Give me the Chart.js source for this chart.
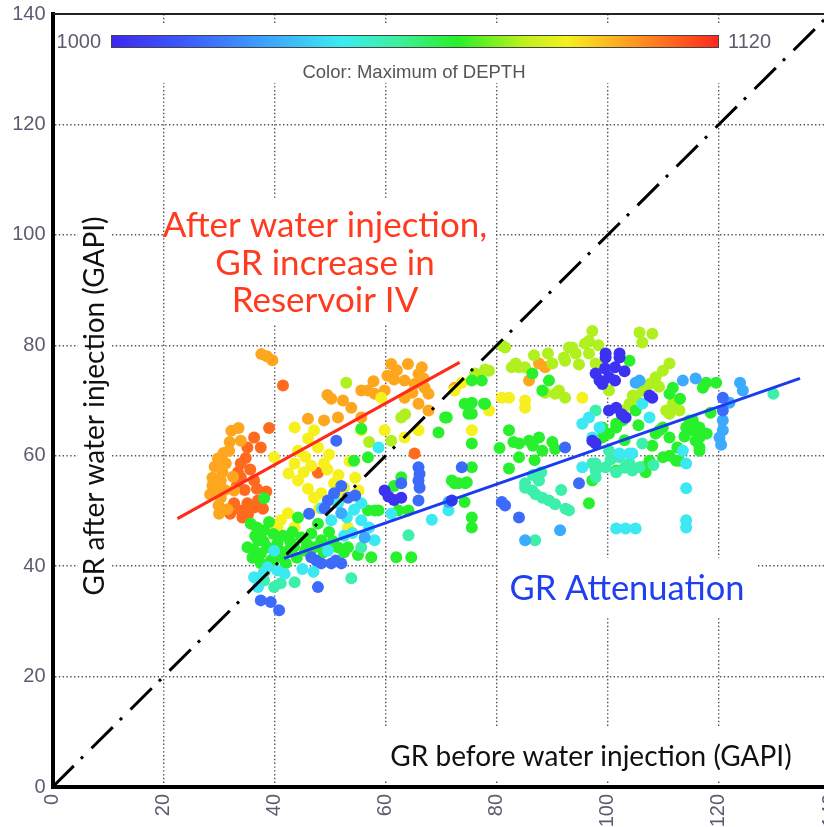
<!DOCTYPE html>
<html>
<head>
<meta charset="utf-8">
<script src="https://cdn.jsdelivr.net/npm/chart.js@4.4.1/dist/chart.umd.min.js"></script>
<style>
  html, body { margin: 0; padding: 0; background: #fff; overflow: hidden; }
  #wrap { position: absolute; left: 0; top: 0; width: 840px; height: 827px; }
</style>
</head>
<body>
<div id="wrap"><canvas id="grChart" width="840" height="827"></canvas></div>
<script>
// GR before vs after water injection, coloured by max depth
const axisTicks = [0, 20, 40, 60, 80, 100, 120, 140];
const depthMin = 1000;
const depthMax = 1120;

// reference lines [GR before, GR after]
const oneToOne = [[0, 0], [140, 140]];
const trendIncrease = [[22.5, 48.6], [73.3, 76.9]];
const trendAttenuation = [[41.7, 41.4], [134.6, 74.0]];

// points grouped by depth class
const depthClasses = [1003, 1018, 1032, 1045, 1055, 1068, 1080, 1090, 1101, 1110];

const ptsViolet = [[59.8,53.7],[62.8,52.4],[60.5,52.6],[71.9,51.9],[99.6,77.8],[102.1,77.8],[97.8,74.9],[100.2,74.2],[101.3,73.6],[99,73],[107.5,70.9],[100.2,68.2],[101.5,68.7],[97.8,62.2],[103.2,66.9],[101.3,76],[98.5,73.6],[97.2,62.7],[99.6,78.5],[102.1,78.5],[108,70.5],[102.5,67.5],[61.5,52],[99.5,75.8],[103,75.3]];
const ptsBlue = [[51.1,62.7],[73.7,57.9],[65.9,57.9],[65.9,55.5],[62.8,55],[65.9,51.9],[47.8,36.2],[37.5,33.8],[39.3,33.5],[40.8,32],[53.2,52.4],[50.7,53.2],[66.1,54.2],[66.1,56.7],[81.5,51],[84,48.8],[94.8,55],[80.9,51.6],[120.7,70.5],[120.7,68.2],[92.3,61.5],[46.6,41.6],[48.4,40.5],[50.2,40.5],[52,40.5],[49.6,51.9],[47.5,41],[51,41],[49,50.5],[54.5,52.8],[52,54.5],[46.2,49.5]];
const ptsCyanBlue = [[52,49.6],[105,73.2],[123.8,73.2],[124.3,71.8],[120.7,66.4],[120.7,64.6],[120.1,63.3],[91.4,46.5],[85.1,44.7],[113.5,73.6],[115.8,74],[121.9,69.6],[71.3,51.6],[56.2,45.2],[120.4,62],[105.7,73.6]];
const ptsCyan = [[58.7,61.5],[39.9,42.8],[49.6,42.8],[55.6,48.3],[51.4,51.4],[50.2,48.3],[55.6,51.4],[36.3,38],[37,36.2],[38.7,39.8],[40.5,39.2],[58,44.7],[61,49.5],[71.3,50.1],[68.3,48.4],[95.4,65.8],[96.6,66.9],[97.2,63.3],[114.1,58.6],[103.9,60.4],[95.4,57.9],[114.1,54.1],[114.1,48.3],[114.1,47],[101.5,46.8],[103.2,46.8],[105,46.8],[106.2,69.4],[107.5,66.9],[98.5,65.1],[113.5,60.9],[104.4,60.4],[102.1,60.4],[54,46],[52.5,45.5],[48.5,50.5],[38,38.8],[41.8,38.6],[45,39.5],[47,39],[53,48.8],[54.3,50.2],[57,47]];
const ptsCyanGreen = [[85.1,55],[87.6,55.5],[86.4,53.7],[88.2,52.4],[89.4,51.9],[85.1,54.2],[86.5,56.5],[88,57],[92.4,50.4],[93,50.1],[86.9,44.7],[97.8,57.3],[97.8,58.6],[99.6,57.9],[102.1,59.7],[103.9,58.6],[105.7,57.9],[106.2,62.2],[100.2,60.9],[97.8,68.2],[97.2,58.6],[101.5,57],[104.4,57.3],[97.8,56.1],[129.8,71.2],[53.8,37.8],[43.6,37.1],[41.1,36.9],[39.9,36.2],[38.1,37.4],[64.1,45.6],[55.6,43.4],[90.5,51.2],[100.5,59.3],[103,57.8],[108.2,58.3],[87,53],[91.6,53.8]];
const ptsGreen = [[38.1,52.3],[55.6,64.9],[54.3,59.1],[56.8,59.7],[75.5,62.2],[70.7,66.9],[75.5,57.9],[71.9,55.5],[74.3,55],[75.5,48.8],[75.5,47],[62.3,50.1],[64.1,50.1],
  [35.7,47.7],[38.1,46.5],[44.2,48.8],[35.1,43.4],[37,44.7],[37.5,42.3],[38.7,43.4],[40.5,44.1],[41.1,41.6],[39.3,41],[37.5,40.5],[42.4,42.8],[44.8,45.2],[46.6,45.9],[48.4,44.7],[47.1,43.4],[51.4,43.4],[53.2,43.4],[57.4,41.6],[56.8,50.1],[47.8,47.7],[58,50.1],[36.5,45.5],[39.8,45.8],[42.8,44.5],[38.2,39],[40,42.5],[36,41.5],[45.5,42.8],[49.8,46.2],[43.2,46.2],
  [36.8,47],[39,48],[41.5,45.5],[43.5,43.5],[45.8,44],[38,44.5],[40.8,42.8],[36.2,43],[39.6,40.2],[42,40.5],[44,41.5],[50.5,44.5],[52.5,42.5],[55,42],[48.8,42.5],
  [73.1,55],[74.6,55.2],[74.2,51.6],[58.7,50.1],[61.9,41.6],[64.6,41.6],[62.8,56.1],[61.5,54.5],[82.2,57.7],
  [86.4,74.9],[75.5,73.6],[77.3,73.6],[77.7,69.4],[74.2,69.4],[75.5,67.6],[69.5,64.2],[82.2,64.6],[84,62.2],[85.8,62.7],[87.6,63.3],[84,59.7],[88.2,60.9],[72.4,55],[75.5,69.6],[77.9,69.4],[74.9,67.6],[71,66.9],[89.4,73.6],[88.2,71.8],[83,62.5],[86.8,59.2],[90,62.5],[80.5,61.4],
  [103.9,77.2],[117.7,73.2],[119.5,73.2],[111.7,72.3],[111.1,71.2],[114.7,66.4],[116.5,65.1],[115.3,64.6],[116.5,63.3],[116.5,60.9],[109.9,65.1],[111.1,63.3],[108.6,64],[105,68.2],[102.7,66.4],[101.5,65.1],[100.2,64],[99,63.3],[101.5,57.3],[107.5,59.1],[109.9,59.7],[112.3,59.1],[99,65.1],[97.2,55.5],[96.6,51.4],[101.5,65.8],[115.8,62.7],[109.3,64.6],[106.2,57.9],[106.8,57],[111.1,60],[112.9,59.1],[116.5,61.5],[117.1,72.3],[115.3,66.4],[114.1,65.1],[90.5,61.2],[86.5,61.8],
  [113.8,63.5],[117.8,64],[112.5,61.5],[108,61.8],[103,62.8],[105.5,65.5],[113,70.3],[118.5,67.8]];
const ptsYellowGreen = [[52.9,73.2],[62.8,66.9],[61,62.7],[81.5,79.6],[84,76],[88.7,71.4],[90.5,71.2],[92.3,70.5],[93,79.6],[95.9,80.3],[97.2,82.6],[94.2,78.5],[96.6,78.5],[92.3,77.2],[97.8,76.7],[105.7,82.3],[108,82.1],[106.2,80.5],[100.2,71.8],[111.1,76.7],[109.9,75.4],[108.6,74.2],[107.5,73],[106.2,71.8],[105,70.5],[103.9,69.4],[102.7,68.2],[111.7,69.4],[112.9,68.2],[111.1,67.6],[82.7,76],[91.2,71.8],[76.1,74.9],[78.6,75.4],[77.9,75.6],[83.4,76.7],[85.1,76],[90,76.7],[92.1,77.8],[93.6,79.6],[96.6,80.8],[99,76],[110.5,68.2],[112.3,68.7],[63.5,67.5],[57,62.5],[81,79.9],[98.3,80],[94.8,76.5],[104.5,70.9],[109.2,72.5],[86.7,78.2],[89.2,78.5]];
const ptsYellow = [[43.6,65.1],[47.1,64.6],[46,63.1],[47.8,61.5],[44.2,60.9],[39.9,59.7],[43.6,58.6],[46.6,58.2],[59.2,70.5],[59.8,64.6],[55.6,64.6],[63.4,63.3],[65.9,64.6],[75.5,64.6],[44.2,55.5],[48.9,58.6],[47.1,52.4],[50.7,55],[52.5,54.2],[52,52.4],[50.2,51.9],[48.4,53.2],[55.1,53.7],[53.2,47],[39.3,46.9],[40.5,47],[42.4,49.6],[43.6,47],[41.1,48.3],[80.9,70.5],[82.2,70.5],[85.1,70],[85.1,68.7],[78.6,68.2],[72.4,71.8],[95.4,70.5],[53.5,59],[45.2,57],[49.8,60.2],[73.7,73.2],[49.5,57.5],[46,54],[51.5,56.5],[45.5,59.8],[42.5,56.8],[54.5,56],[48,50.5]];
const ptsOrange = [[37.6,78.4],[38.6,78],[39.6,77.3],[33.9,62.7],[31.8,60.9],[31.2,58.6],[30.6,57],[30.3,55.5],[30.3,52.4],[32.7,53.7],[29.5,54.2],[28.8,56],[29.2,58],[30.8,60.5],[32.2,64.5],[33.5,65],[28.4,53],[31.5,50.3],[29.9,51],[29.8,59.5],[31.9,62.5],[28.8,54.6],[31,53.8],[32.5,56.2],[30,49.5],
  [61,76.6],[64,76.6],[65.9,74.8],[63.4,73.6],[65.2,73],[67,72.3],[67.7,71.2],[63.4,70.5],[56.8,71.8],[59.8,71.8],[53.8,68.7],[65.9,69.4],[67.7,68.2],[55.6,71.8],[58,71.2],[50.2,70.3],[52.3,70],[46,66.7],[48.9,66.4],[51.4,66.9],[55.6,66.9],[62,75.5],[66.5,76],[61.5,73.8],[49.5,71],[64.8,71.4],[60.3,74.5],[57.8,73.5],[66.8,74],
  [87.6,76.7],[88.7,76],[85.8,73.6],[72.4,72.3]];
const ptsRedOrange = [[41.5,72.7],[39,65],[36.3,63.3],[35.1,61.5],[37.5,61.5],[33.9,58.6],[33.4,57],[33.9,56.1],[36.3,55.5],[34.6,53.8],[32.7,51.4],[33.9,50.1],[35.1,51.4],[36.3,50.6],[37,51.9],[35.2,49.3],[37.9,50.4],[34.2,48.8],[47.8,56.9],[65.2,60.4],[34.8,59.6],[33.2,54.6],[36.8,54],[35.6,57.5],[38.5,53.5],[32,49.5]];

const pointGroups = [ptsViolet, ptsBlue, ptsCyanBlue, ptsCyan, ptsCyanGreen, ptsGreen, ptsYellowGreen, ptsYellow, ptsOrange, ptsRedOrange];

const noteIncrease = ['After water injection,', 'GR increase in', 'Reservoir IV'];
const noteAttenuation = 'GR Attenuation';
const xTitle = 'GR before water injection (GAPI)';
const yTitle = 'GR after water injection (GAPI)';
const colorTitle = 'Color: Maximum of DEPTH';

// jet-like colour scale
const jetStops = [
  [0.00, [60, 40, 240]],
  [0.12, [60, 90, 250]],
  [0.25, [60, 160, 255]],
  [0.38, [60, 235, 240]],
  [0.47, [60, 240, 160]],
  [0.57, [40, 240, 40]],
  [0.67, [180, 240, 30]],
  [0.75, [245, 240, 30]],
  [0.85, [255, 160, 30]],
  [1.00, [255, 40, 30]]
];

function jetColor(t) {
  t = Math.min(1, Math.max(0, t));
  for (let i = 1; i < jetStops.length; i++) {
    if (t <= jetStops[i][0]) {
      const [t0, c0] = jetStops[i - 1];
      const [t1, c1] = jetStops[i];
      const f = (t - t0) / (t1 - t0);
      const c = c0.map((v, k) => Math.round(v + (c1[k] - v) * f));
      return `rgb(${c.join(',')})`;
    }
  }
  return 'rgb(255,40,30)';
}

const depthColor = d => jetColor((d - depthMin) / (depthMax - depthMin));
const toXY = arr => arr.map(([x, y]) => ({ x, y }));

const tickColor = '#5c5c70';
const tickFont = '"Liberation Sans", Arial, sans-serif';
const noteFont = 'Lato, "Open Sans", sans-serif';

const overlayPlugin = {
  id: 'overlay',
  beforeDatasetsDraw(chart) {
    // white text boxes hide the grid like in the original
    const ctx = chart.ctx;
    ctx.save();
    ctx.fillStyle = '#fff';
    ctx.fillRect(56, 24, 720, 59);     // colour bar
    ctx.fillRect(166, 200, 330, 125);  // red note
    ctx.fillRect(499, 558, 258, 58);   // blue note
    ctx.fillRect(382, 727, 425, 53);   // x title
    ctx.fillRect(78, 208, 34, 394);    // y title
    ctx.restore();
  },
  afterDatasetsDraw(chart) {
    const ctx = chart.ctx;
    ctx.save();
    ctx.textBaseline = 'middle';

    // colour bar
    const bx = 111, by = 35, bw = 608, bh = 13;
    const grad = ctx.createLinearGradient(bx, 0, bx + bw, 0);
    jetStops.forEach(([t]) => grad.addColorStop(t, jetColor(t)));
    ctx.fillStyle = grad;
    ctx.fillRect(bx, by, bw, bh);
    ctx.strokeStyle = '#444';
    ctx.lineWidth = 1;
    ctx.strokeRect(bx + 0.5, by + 0.5, bw - 1, bh - 1);
    ctx.fillStyle = tickColor;
    ctx.font = '20px ' + tickFont;
    ctx.textAlign = 'right';
    ctx.fillText(String(depthMin), 101, 42);
    ctx.textAlign = 'left';
    ctx.fillText(String(depthMax), 728, 42);
    ctx.font = '18.5px ' + tickFont;
    ctx.fillStyle = '#555';
    ctx.textAlign = 'center';
    ctx.fillText(colorTitle, 414, 73);

    // annotations
    ctx.font = '35px ' + noteFont;
    ctx.fillStyle = '#ff3a1e';
    noteIncrease.forEach((s, i) => ctx.fillText(s, 325, 226 + i * 37.5));
    ctx.font = '34.5px ' + noteFont;
    ctx.fillStyle = '#2040f0';
    ctx.fillText(noteAttenuation, 627, 589);

    // axis titles
    ctx.fillStyle = '#111';
    ctx.font = '28px ' + noteFont;
    ctx.fillText(xTitle, 591, 757);
    ctx.translate(95, 406);
    ctx.rotate(-Math.PI / 2);
    ctx.fillText(yTitle, 0, 0);
    ctx.restore();
  },
  afterDraw(chart) {
    const { ctx, chartArea } = chart;
    ctx.save();
    ctx.strokeStyle = '#222';
    ctx.lineWidth = 2;
    ctx.beginPath();
    ctx.moveTo(chartArea.left, chartArea.top);
    ctx.lineTo(chartArea.right, chartArea.top);
    ctx.stroke();
    ctx.restore();
  }
};

const lineSet = (pts, color, dash) => ({
  type: 'line',
  data: toXY(pts),
  borderColor: color,
  borderWidth: 3,
  borderDash: dash || [],
  pointRadius: 0,
  fill: false,
  order: 0
});

const datasets = [
  lineSet(oneToOne, '#000', [30, 10, 3, 12]),
  lineSet(trendIncrease, '#ff2a1a'),
  lineSet(trendAttenuation, '#1a3cf0')
];
pointGroups.forEach((pts, i) => {
  datasets.push({
    type: 'scatter',
    data: toXY(pts),
    backgroundColor: depthColor(depthClasses[i]),
    borderWidth: 0,
    pointRadius: 6,
    order: 1
  });
});

const gridStyle = { color: '#555', lineWidth: 1.4, drawTicks: false };
const borderStyle = { color: '#000', width: 4, dash: [1.4, 2.4] };

const ctx = document.getElementById('grChart').getContext('2d');
new Chart(ctx, {
  data: { datasets },
  plugins: [overlayPlugin],
  options: {
    responsive: false,
    animation: false,
    events: [],
    layout: { padding: { top: 14, right: 10, left: 0, bottom: 0 } },
    plugins: { legend: { display: false }, tooltip: { enabled: false } },
    scales: {
      x: {
        type: 'linear',
        min: 0,
        max: 140,
        afterFit: s => { s.height = 40; s.paddingLeft = 0; s.paddingRight = 0; },
        afterBuildTicks: s => { s.ticks = axisTicks.map(v => ({ value: v })); },
        ticks: {
          autoSkip: false,
          minRotation: 90,
          maxRotation: 90,
          padding: 7,
          color: tickColor,
          font: { family: tickFont, size: 20 }
        },
        grid: gridStyle,
        border: borderStyle
      },
      y: {
        type: 'linear',
        min: 0,
        max: 140,
        afterFit: s => { s.width = 52.5; s.paddingTop = 0; s.paddingBottom = 0; },
        afterBuildTicks: s => { s.ticks = axisTicks.map(v => ({ value: v })); },
        ticks: {
          autoSkip: false,
          padding: 7,
          color: tickColor,
          font: { family: tickFont, size: 20 }
        },
        grid: gridStyle,
        border: borderStyle
      }
    }
  }
});
</script>
</body>
</html>
